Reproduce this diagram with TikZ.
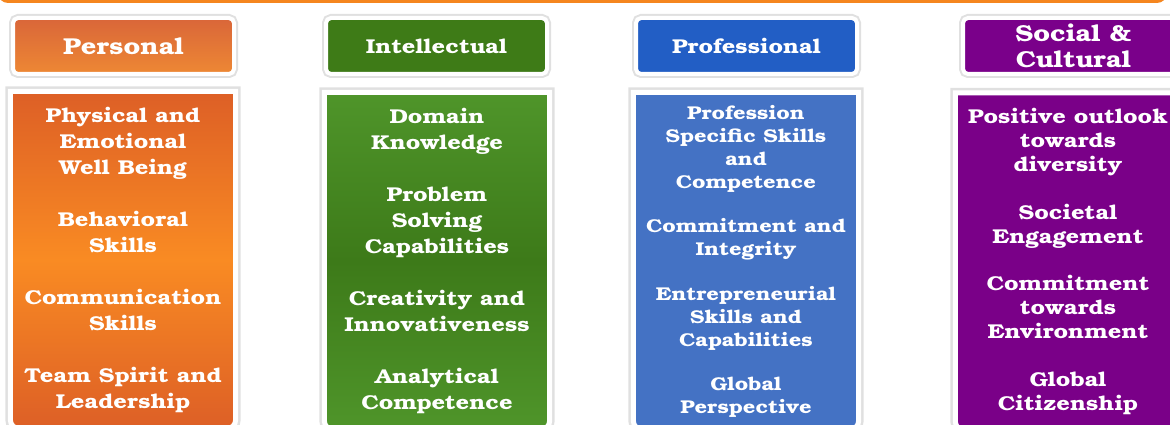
\documentclass[tikz,border=0pt]{standalone}
\usepackage{fontspec}
\setmainfont{TeX Gyre Bonum}[FakeStretch=1.18]
\usetikzlibrary{backgrounds}
\definecolor{topbar}{RGB}{245,134,31}
\definecolor{pershdtop}{RGB}{217,102,57}
\definecolor{pershdbot}{RGB}{238,136,52}
\definecolor{persdark}{RGB}{221,95,38}
\definecolor{perslight}{RGB}{249,139,35}
\definecolor{intelhd}{RGB}{62,123,23}
\definecolor{inteldark}{RGB}{61,122,25}
\definecolor{intellight}{RGB}{79,149,42}
\definecolor{profhd}{RGB}{34,94,197}
\definecolor{profbody}{RGB}{68,114,196}
\definecolor{sochd}{RGB}{122,0,138}
\definecolor{socbody}{RGB}{122,0,136}

\begin{document}
\begin{tikzpicture}[
        x=1pt, y=-1pt,
        head/.style={rectangle, rounded corners=5pt, draw=white, line width=4pt, preaction={draw=black!12, line width=8pt}, minimum width=221pt, minimum height=56pt, inner sep=0pt, text=white, align=center, font=\fontsize{23}{26}\selectfont\bfseries},
        body/.style={rectangle, minimum width=225pt, minimum height=337pt, inner sep=0pt, text=white, align=center},
        frame/.style={draw=white, line width=5pt, preaction={draw=black!12, line width=10pt}}
    ]
        \useasboundingbox (0,0) rectangle (1170,425);

        % Top bar
        \fill[topbar, rounded corners=10pt] (-2,-20) rectangle (1167,3);

        % Column headers
        \node[head, top color=pershdtop, bottom color=pershdbot] (hd-pers) at (123.5,46) {Personal};
        \node[head, fill=intelhd, font=\fontsize{20}{24}\selectfont\bfseries] (hd-intel) at (436.5,46) {Intellectual};
        \node[head, fill=profhd, font=\fontsize{20}{24}\selectfont\bfseries] (hd-prof) at (746.5,46) {Professional};
        \node[head, fill=sochd] (hd-soc) at (1073.5,46) {Social \&\\Cultural};

        % Column bodies
        \node[body, font=\fontsize{20}{26}\selectfont\bfseries] (bd-pers) at (123,260)
            {Physical and\\Emotional\\Well Being\\[26pt]Behavioral\\Skills\\[26pt]Communication\\Skills\\[26pt]Team Spirit and\\Leadership};
        \node[body, font=\fontsize{20}{26}\selectfont\bfseries] (bd-intel) at (437,261)
            {Domain\\Knowledge\\[26pt]Problem\\Solving\\Capabilities\\[26pt]Creativity and\\Innovativeness\\[26pt]Analytical\\Competence};
        \node[body, font=\fontsize{18.5}{23}\selectfont\bfseries] (bd-prof) at (746,261)
            {Profession\\Specific Skills\\and\\Competence\\[21pt]Commitment and\\Integrity\\[22pt]Entrepreneurial\\Skills and\\Capabilities\\[21pt]Global\\Perspective};
        \node[body, font=\fontsize{20}{24}\selectfont\bfseries] (bd-soc) at (1068,261.5)
            {Positive outlook\\towards\\diversity\\[24pt]Societal\\Engagement\\[23pt]Commitment\\towards\\Environment\\[24pt]Global\\Citizenship};

        % Body frames, square on top, round below
        \begin{scope}[on background layer]
            \foreach \b/\cout/\cmid in {bd-pers/persdark/perslight, bd-intel/intellight/inteldark, bd-prof/profbody/profbody, bd-soc/socbody/socbody}
                \path[frame, top color=\cout, bottom color=\cout, middle color=\cmid]
                    (\b.north west) -- (\b.north east) [rounded corners=9pt] -- (\b.south east) -- (\b.south west) [sharp corners] -- cycle;
        \end{scope}
    \end{tikzpicture}
\end{document}
